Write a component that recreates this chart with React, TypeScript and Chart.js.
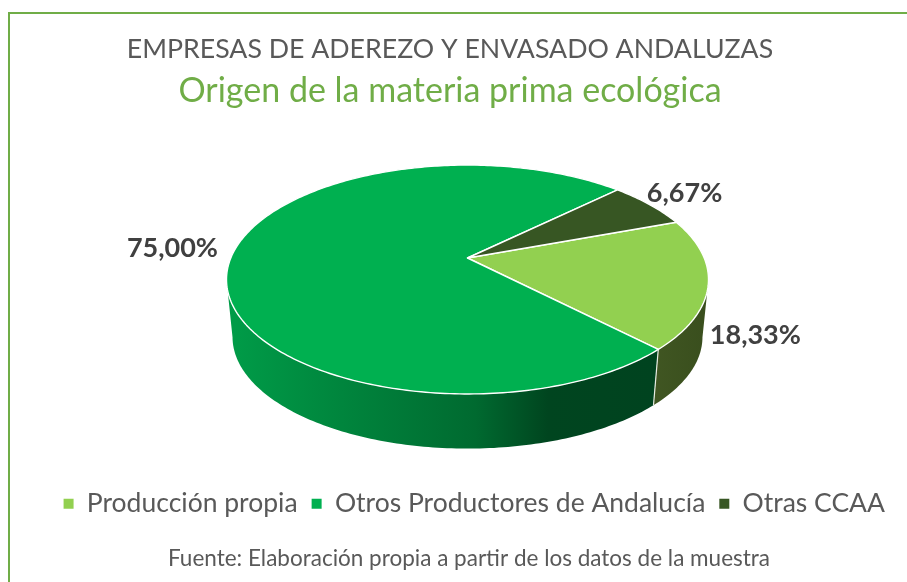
import React, { useEffect, useRef } from "react";
import { Chart, registerables } from "chart.js";

Chart.register(...registerables);

const categories = ["Producción propia", "Otros Productores de Andalucía", "Otras CCAA"];
const shares = [18.33, 75.0, 6.67];
const topColors = ["#92D050", "#00B050", "#375623"];
const titleText = "EMPRESAS DE ADEREZO Y ENVASADO ANDALUZAS";
const subtitleText = "Origen de la materia prima ecológica";
const footerText = "Fuente: Elaboración propia a partir de los datos de la muestra";

// view of the tilted pie
const VIEW = {
  cx: 467.5, cy: 258, rx: 236.7, b: 110.4, k: 0.188,
  ellipseCy: 279.5, wallCy: 337, wallScale: 0.975,
  visibleFrom: (11 * Math.PI) / 180, visibleTo: (169 * Math.PI) / 180,
};
const labelOffsets = [
  { dx: 47, dy: 52 },
  { dx: -59, dy: -8 },
  { dx: 35, dy: -11 },
];

const project = (t: number) => {
  const u = Math.cos(t), v = Math.sin(t), d = 1 - VIEW.k * v;
  return { x: VIEW.cx + (VIEW.rx * u) / d, y: VIEW.cy + (VIEW.b * v) / d };
};
const projectLow = (t: number) => {
  const p = project(t);
  return {
    x: VIEW.cx + (p.x - VIEW.cx) * VIEW.wallScale,
    y: VIEW.wallCy + (p.y - VIEW.ellipseCy) * VIEW.wallScale,
  };
};

const wallGradient = (ctx: CanvasRenderingContext2D, i: number) => {
  if (i === 0) {
    const g = ctx.createLinearGradient(653, 0, 709, 0);
    g.addColorStop(0, "#405622");
    g.addColorStop(1, "#394E1D");
    return g;
  }
  const g = ctx.createLinearGradient(228, 0, 655, 0);
  g.addColorStop(0, "#009C48");
  g.addColorStop(0.58, "#006A30");
  g.addColorStop(0.75, "#00451F");
  g.addColorStop(1, "#00431F");
  return g;
};

const pie3d = {
  id: "pie3d",
  beforeDraw(chart: any) {
    const { ctx } = chart;
    ctx.save();
    ctx.strokeStyle = "#70AD47";
    ctx.lineWidth = 2;
    ctx.beginPath();
    ctx.moveTo(9, 582);
    ctx.lineTo(9, 13);
    ctx.lineTo(907, 13);
    ctx.stroke();
    ctx.restore();
  },
  beforeDatasetsDraw(chart: any) {
    const { ctx } = chart;
    const arcs = chart.getDatasetMeta(0).data;
    ctx.save();
    // side wall
    arcs.forEach((arc: any, i: number) => {
      const segments: [number, number][] = [];
      for (const shift of [0, -2 * Math.PI, 2 * Math.PI]) {
        const lo = Math.max(arc.startAngle + shift, VIEW.visibleFrom);
        const hi = Math.min(arc.endAngle + shift, VIEW.visibleTo);
        if (hi > lo) segments.push([lo, hi]);
      }
      segments.forEach(([lo, hi]) => {
        const n = Math.max(4, Math.ceil((hi - lo) * 60));
        ctx.beginPath();
        for (let s = 0; s <= n; s++) {
          const p = project(lo + ((hi - lo) * s) / n);
          s === 0 ? ctx.moveTo(p.x, p.y) : ctx.lineTo(p.x, p.y);
        }
        for (let s = n; s >= 0; s--) {
          const p = projectLow(lo + ((hi - lo) * s) / n);
          ctx.lineTo(p.x, p.y);
        }
        ctx.closePath();
        ctx.fillStyle = wallGradient(ctx, i);
        ctx.fill();
      });
    });
    // seam between the two visible walls
    const seam = arcs[0].endAngle;
    const a = project(seam), b = projectLow(seam);
    ctx.strokeStyle = "#E8EDE4";
    ctx.lineWidth = 1.2;
    ctx.beginPath();
    ctx.moveTo(a.x, a.y);
    ctx.lineTo(b.x, b.y);
    ctx.stroke();
    // top face
    arcs.forEach((arc: any, i: number) => {
      const span = arc.endAngle - arc.startAngle;
      const n = Math.ceil(span * 60);
      ctx.beginPath();
      ctx.moveTo(VIEW.cx, VIEW.cy);
      for (let s = 0; s <= n; s++) {
        const p = project(arc.startAngle + (span * s) / n);
        ctx.lineTo(p.x, p.y);
      }
      ctx.closePath();
      ctx.fillStyle = topColors[i];
      ctx.fill();
      ctx.strokeStyle = "#FFFFFF";
      ctx.lineWidth = 1.4;
      ctx.lineJoin = "round";
      ctx.stroke();
    });
    // value labels
    ctx.fillStyle = "#404040";
    ctx.font = "bold 27px Lato";
    ctx.textAlign = "center";
    ctx.textBaseline = "middle";
    arcs.forEach((arc: any, i: number) => {
      const rim = project((arc.startAngle + arc.endAngle) / 2);
      const text = shares[i].toFixed(2).replace(".", ",") + "%";
      ctx.fillText(text, rim.x + labelOffsets[i].dx, rim.y + labelOffsets[i].dy);
    });
    // source note
    ctx.fillStyle = "#595959";
    ctx.font = "22.5px Lato";
    ctx.fillText(footerText, 469, 559);
    ctx.restore();
    return false;
  },
};

export default function App() {
  const ref = useRef<HTMLCanvasElement>(null);
  useEffect(() => {
    const chart = new Chart(ref.current!, {
      type: "pie",
      data: {
        labels: categories,
        datasets: [{ data: shares, backgroundColor: topColors, borderWidth: 0 }],
      },
      plugins: [pie3d],
      options: {
        animation: false,
        responsive: false,
        rotation: 69.8,
        layout: { padding: { left: 1, right: 8, top: 33, bottom: 55 } },
        plugins: {
          tooltip: { enabled: false },
          title: {
            display: true,
            text: titleText,
            color: "#595959",
            font: { family: "Lato", size: 26.7, weight: "normal" },
            padding: { top: 0, bottom: 6 },
          },
          subtitle: {
            display: true,
            text: subtitleText,
            color: "#70AD47",
            font: { family: "Lato", size: 34, weight: "normal" },
            padding: { top: 0, bottom: 0 },
          },
          legend: {
            position: "bottom",
            align: "end",
            labels: {
              color: "#595959",
              font: { family: "Lato", size: 26.5 },
              boxWidth: 10,
              boxHeight: 10,
              padding: 14,
            },
          },
        },
      },
    });
    return () => chart.destroy();
  }, []);
  return (
    <canvas
      ref={ref}
      width={907}
      height={582}
      style={{ position: "absolute", left: 0, top: 0, width: 907, height: 582 }}
    />
  );
}
